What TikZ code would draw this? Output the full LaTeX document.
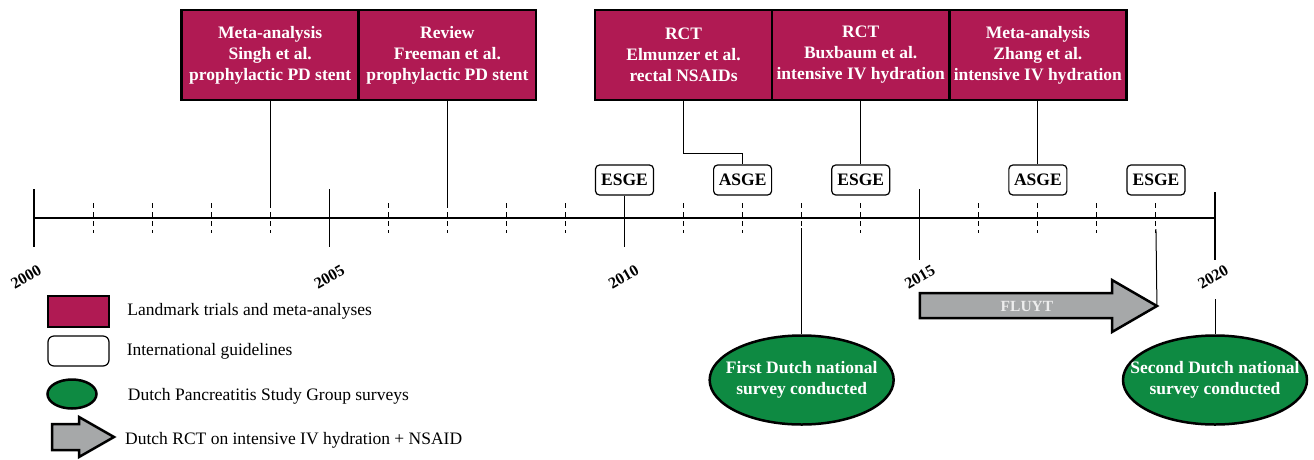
\documentclass[tikz,border=0pt]{standalone}
\usepackage{fontspec}
\setmainfont{Liberation Serif}
\usetikzlibrary{positioning,shapes.geometric}

\definecolor{landmark}{HTML}{B01A53}
\definecolor{surveygreen}{HTML}{0E8A42}
\definecolor{rctgray}{HTML}{A6A8A9}

% x position of a year after 2000
\newcommand{\yearx}[1]{34+59.05*#1}

\begin{document}
\begin{tikzpicture}
    [x=1pt,y=-1pt,
    boxfont/.style={font=\fontsize{17.5}{21}\selectfont\bfseries},
    trial/.style={rectangle,draw=black,line width=2.5pt,fill=landmark,text=white,boxfont,align=center,
      minimum width=177pt,minimum height=90pt,inner sep=0pt},
    guide/.style={rectangle,rounded corners=4pt,draw=black,line width=1.2pt,fill=white,boxfont,
      minimum width=58pt,minimum height=30pt,inner sep=0pt},
    survey/.style={ellipse,draw=black,line width=2.5pt,fill=surveygreen,text=white,boxfont,align=center,
      minimum width=184pt,minimum height=89pt,inner xsep=-22pt,inner ysep=0pt},
    rctarrow/.style={draw=black,line width=2.5pt,fill=rctgray,line join=miter},
    axis/.style={line width=1.2pt},
    minor/.style={line width=1pt,dash pattern=on 5pt off 4pt},
    link/.style={line width=1pt},
    yearlabel/.style={font=\fontsize{16}{18}\selectfont\bfseries,rotate=30,inner sep=0pt},
    keytext/.style={font=\fontsize{17.5}{20}\selectfont,anchor=west,inner sep=0pt}]
    \useasboundingbox (0,0) rectangle (1314,459);

    % timeline
    \draw[axis] ({\yearx{0}},218) -- ({\yearx{20}},218);
    \foreach \n in {1,2,3,4,6,7,8,9,11,12,13,14,16,17,18,19}
      \draw[minor] ({\yearx{\n}},203) coordinate (t\n) -- ({\yearx{\n}},233);
    \draw[axis] ({\yearx{0}},189) -- ({\yearx{0}},247);
    \draw[axis] ({\yearx{5}},189) -- ({\yearx{5}},247);
    \draw[axis] ({\yearx{15}},189) -- ({\yearx{15}},260);
    \draw[axis] ({\yearx{20}},192) -- ({\yearx{20}},260);
    \foreach \n/\y/\dx in {0/2000/-8,5/2005/0,10/2010/-1,15/2015/0,20/2020/-2}
      \node[yearlabel] (y\y) at ({\yearx{\n}+\dx},277) {\y};

    % landmark trials
    \node[trial] (singh) at ({\yearx{4}},55) {Meta-analysis\\Singh et al.\\prophylactic PD stent};
    \node[trial] (freeman) at ({\yearx{7}},55) {Review\\Freeman et al.\\prophylactic PD stent};
    \node[trial] (elmunzer) at ({\yearx{11}},55) {RCT\\Elmunzer et al.\\rectal NSAIDs};
    \node[trial] (buxbaum) at ({\yearx{14}},55) {RCT\\Buxbaum et al.\\intensive IV hydration};
    \node[trial] (zhang) at ({\yearx{17}},55) {Meta-analysis\\Zhang et al.\\intensive IV hydration};

    % guidelines
    \node[guide] (esge10) at ({\yearx{10}},180) {ESGE};
    \node[guide] (asge12) at ({\yearx{12}},180) {ASGE};
    \node[guide] (esge14) at ({\yearx{14}},180) {ESGE};
    \node[guide] (asge17) at ({\yearx{17}},180) {ASGE};
    \node[guide] (esge19) at ({\yearx{19}},180) {ESGE};

    \draw[link] (singh.south) -- (t4);
    \draw[link] (freeman.south) -- (t7);
    \draw[link] (elmunzer.south) -- ++(0,52) -| (asge12.north);
    \draw[link] (buxbaum.south) -- (esge14.north);
    \draw[link] (zhang.south) -- (asge17.north);
    \draw[axis] (esge10.south) -- ({\yearx{10}},247);

    % surveys
    \node[survey] (first) at ({\yearx{13}},380) {First Dutch national\\survey conducted};
    \node[survey] (second) at ({\yearx{20}},380) {Second Dutch national\\survey conducted};
    \coordinate (d13) at ({\yearx{13}},228);
    \coordinate (d20) at ({\yearx{20}},299);
    \draw[link] (d13) -- (first.north);
    \draw[link] (d20) -- (second.north);

    % FLUYT
    \draw[rctarrow] ({\yearx{15}},293) -- (1112,293) -- (1112,280) -- ({\yearx{19}+1},306) coordinate (fluyttip)
      -- (1112,332) -- (1112,318) -- ({\yearx{15}},318) -- cycle;
    \node[boxfont,font=\fontsize{15.5}{18}\selectfont\bfseries,text=white!93!black] (fluyt) at (1027,306) {FLUYT};
    \coordinate (d19) at ({\yearx{19}},229);
    \draw[link] (d19) -- (fluyttip);

    % legend
    \node[trial,minimum width=61pt,minimum height=31pt] (keytrial) at (78.5,311.5) {};
    \node[keytext,right=17pt of keytrial] (keytrialtext) {Landmark trials and meta-analyses};
    \node[guide,rounded corners=6pt,minimum width=61pt,minimum height=30pt] (keyguide) at (78.5,351) {};
    \node[keytext,right=17pt of keyguide] (keyguidetext) {International guidelines};
    \node[survey,minimum width=49pt,minimum height=29pt,inner sep=0pt] (keysurvey) at (72,394) {};
    \node[keytext,right=30pt of keysurvey,yshift=-2pt] (keysurveytext) {Dutch Pancreatitis Study Group surveys};
    \draw[rctarrow] (52,424) -- (79,424) -- (79,417) -- (114,437) coordinate (keytip)
      -- (79,457) -- (79,450) -- (52,450) -- cycle;
    \node[keytext,right=11pt of keytip,yshift=-3pt] (keyrcttext) {Dutch RCT on intensive IV hydration + NSAID};
\end{tikzpicture}
\end{document}
